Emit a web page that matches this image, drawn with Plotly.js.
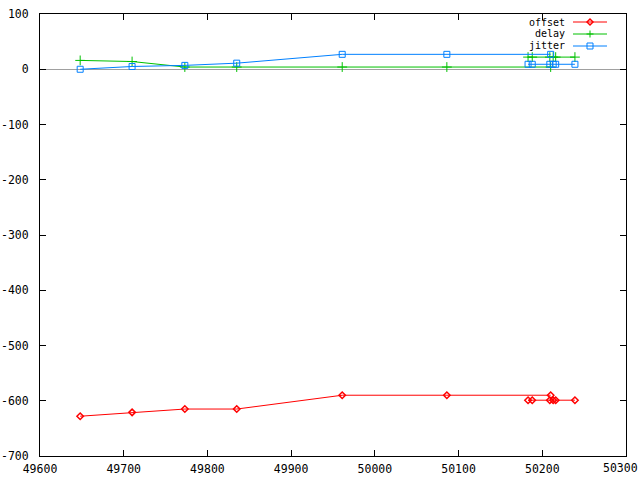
<!DOCTYPE html>
<html>
<head>
<meta charset="utf-8">
<script src="https://cdn.plot.ly/plotly-3.0.1.min.js"></script>
<style>html,body{margin:0;padding:0;background:#fff;}#chart{width:640px;height:480px;}</style>
</head>
<body>
<div id="chart"></div>
<script>
// x values (null = gap between the two runs)
const xVals = [49648, 49710, 49773, 49835, 49961, 50086, 50210, null, 50183, 50188, 50209, 50213, 50216, 50239];
const offsetVals = [-628, -621, -615, -615, -590, -590, -590, null, -599, -599, -599, -599, -599, -599];
const delayVals = [16, 14, 4, 4, 4, 4, 4, null, 22, 22, 22, 22, 22, 22];
const jitterVals = [0, 5, 7, 11, 27, 27, 27, null, 9, 9, 9, 9, 9, 9];
const seriesNames = ["offset", "delay", "jitter"];
const seriesColors = ["#ff0000", "#00c000", "#0080ff"];
const xTicks = [49600, 49700, 49800, 49900, 50000, 50100, 50200, 50300];
const yTicks = [-700, -600, -500, -400, -300, -200, -100, 0, 100];

const font = {family: "DejaVu Sans Mono, monospace", size: 11.5, color: "#000"};
const keyFont = {family: "DejaVu Sans Mono, monospace", size: 10, color: "#000"};

const traces = [
  {x: xVals, y: offsetVals, name: seriesNames[0], mode: "lines+markers", connectgaps: false,
   line: {color: seriesColors[0], width: 1}, marker: {symbol: "diamond-open", size: 5, color: seriesColors[0], line: {width: 1.5, color: seriesColors[0]}}},
  {x: xVals, y: delayVals, name: seriesNames[1], mode: "lines+markers", connectgaps: false,
   line: {color: seriesColors[1], width: 1}, marker: {symbol: "cross-thin-open", size: 7, color: seriesColors[1], line: {width: 1, color: seriesColors[1]}}},
  {x: xVals, y: jitterVals, name: seriesNames[2], mode: "lines+markers", connectgaps: false,
   line: {color: seriesColors[2], width: 1}, marker: {symbol: "square-open", size: 6, color: seriesColors[2], line: {width: 1, color: seriesColors[2]}}}
];

// gnuplot-style key (text on the left, sample on the right), placed in paper units
const W = 640, H = 480, M = {l: 40, r: 14, t: 14, b: 24};
const pw = W - M.l - M.r, ph = H - M.t - M.b;
const px = p => (p - M.l) / pw;            // pixel -> paper x
const py = p => 1 - (p - M.t) / ph;        // pixel -> paper y
const keyText = 566, keyL = 573, keyR = 607, keyMid = 590, keyRows = [22, 34, 46];
const annotations = [], shapes = [];
seriesNames.forEach((nm, i) => {
  const r = keyRows[i], c = seriesColors[i];
  annotations.push({xref: "paper", yref: "paper", x: px(keyText), y: py(r), xanchor: "right", yanchor: "middle",
    text: nm, showarrow: false, font: keyFont, borderpad: 0, height: 11, valign: "middle"});
  shapes.push({type: "line", xref: "paper", yref: "paper", x0: px(keyL), x1: px(keyR), y0: py(r), y1: py(r),
    line: {color: c, width: 1}});
  let path;
  if (i === 0) path = `M${px(keyMid-3)},${py(r)} L${px(keyMid)},${py(r-3)} L${px(keyMid+3)},${py(r)} L${px(keyMid)},${py(r+3)} Z`;
  else if (i === 1) path = `M${px(keyMid-3.5)},${py(r)} L${px(keyMid+3.5)},${py(r)} M${px(keyMid)},${py(r-3.5)} L${px(keyMid)},${py(r+3.5)}`;
  else path = `M${px(keyMid-3)},${py(r-3)} L${px(keyMid+3)},${py(r-3)} L${px(keyMid+3)},${py(r+3)} L${px(keyMid-3)},${py(r+3)} Z`;
  shapes.push({type: "path", xref: "paper", yref: "paper", path: path, line: {color: c, width: i === 0 ? 1.5 : 1},
    fillcolor: "rgba(0,0,0,0)"});
});

// last x tick label: gnuplot pushes it flush against the right edge of the image
const lastTick = xTicks[xTicks.length - 1];
annotations.push({xref: "paper", yref: "paper", x: px(W - 1), y: 0, xanchor: "right", yanchor: "top",
  yshift: -4, text: String(lastTick), showarrow: false, font: font, borderpad: 0});

const axisCommon = {
  showgrid: false, showline: true, linecolor: "#000", linewidth: 1, mirror: "ticks",
  ticks: "inside", ticklen: 6, tickcolor: "#000", tickfont: font, ticklabeloverflow: "allow"
};

const layout = {
  width: W, height: H,
  margin: M,
  paper_bgcolor: "#fff", plot_bgcolor: "#fff",
  font: font,
  showlegend: false,
  annotations: annotations,
  shapes: shapes,
  xaxis: Object.assign({}, axisCommon, {range: [49600, 50300], tickvals: xTicks,
           ticktext: xTicks.map(v => v === lastTick ? "" : String(v)),
           zeroline: false, ticklabelstandoff: 2}),
  yaxis: Object.assign({}, axisCommon, {range: [-700, 100], tickvals: yTicks, ticktext: yTicks.map(String),
           zeroline: true, zerolinecolor: "#a0a0a0", zerolinewidth: 1, ticklabelstandoff: 8})
};

Plotly.newPlot("chart", traces, layout, {staticPlot: true, displayModeBar: false});
</script>
</body>
</html>
